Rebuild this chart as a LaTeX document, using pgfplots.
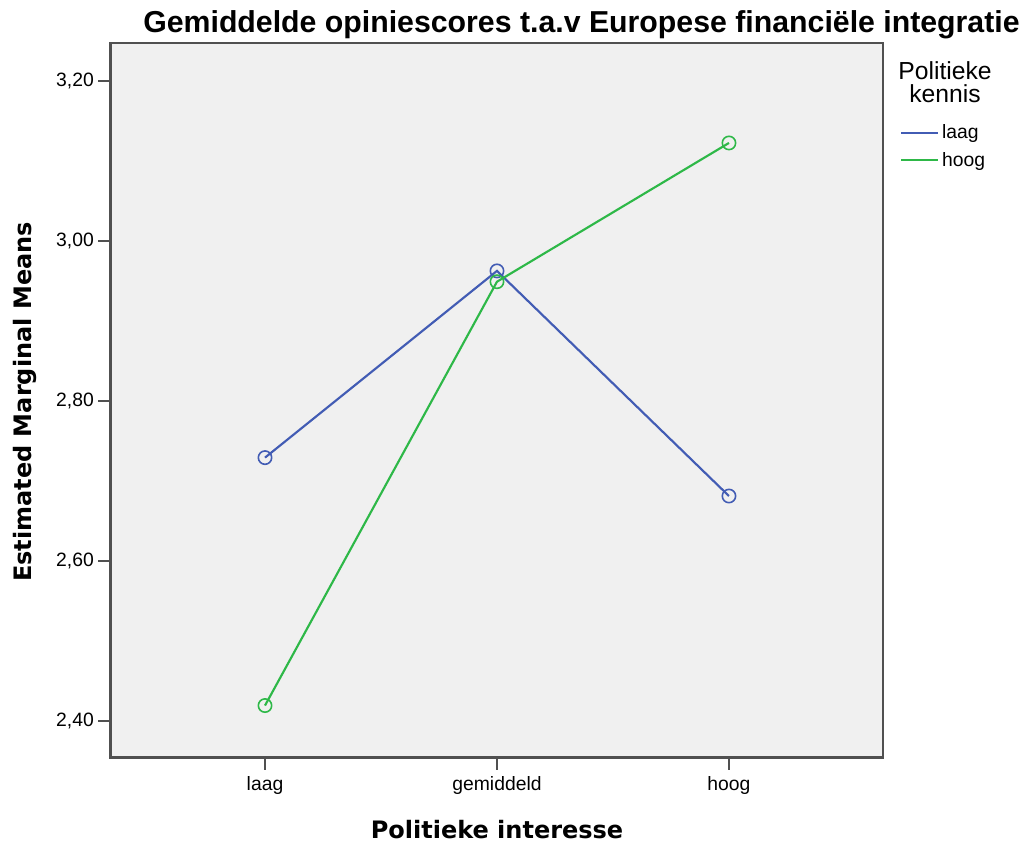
\documentclass[border=0pt]{standalone}
\usepackage{fontspec}
\setmainfont{Liberation Sans}
\newfontfamily\dejavu{DejaVu Sans}
\usepackage{pgfplots}
\pgfplotsset{compat=1.18}
\definecolor{spssblue}{RGB}{66,92,180}
\definecolor{spssgreen}{RGB}{46,184,72}
\definecolor{bgcol}{RGB}{240,240,240}
\definecolor{framecol}{RGB}{80,80,80}
\begin{document}
\begin{tikzpicture}[x=1pt,y=1pt]
\useasboundingbox (0,0) rectangle (770.25,633);
\begin{axis}[
  at={(82.875pt,64.875pt)}, anchor=south west,
  scale only axis, width=579.375pt, height=535.875pt,
  xmin=-0.666, xmax=2.664, ymin=2.354, ymax=3.2475,
  axis background/.style={fill=bgcol},
  axis line style={framecol, line width=1.6pt},
  xtick={0,1,2}, xticklabels={laag,gemiddeld,hoog},
  ytick={2.4,2.6,2.8,3.0,3.2},
  tick align=outside, major tick length=9pt,
  tick style={framecol, line width=1.6pt},
  xtick pos=bottom, ytick pos=left,
  tick label style={font=\fontsize{14.5}{17}\selectfont},
  y tick label style={/pgf/number format/.cd, fixed, fixed zerofill, precision=2, use comma, assume math mode=true},
  xticklabel style={yshift=-2pt},
  clip=false,
  legend style={draw=none, fill=none, at={(axis description cs:1.022,0.8894)}, anchor=north west,
    font=\fontsize{14.5}{17}\selectfont, inner sep=0pt, row sep=4.5pt,
    nodes={inner sep=2pt}},
  legend cell align=left,
  legend image code/.code={\draw[#1] (0pt,0pt) -- (27.75pt,0pt);},
]
\addplot[spssblue, line width=1.6pt, mark=o, mark size=5pt, mark options={solid, line width=1.2pt}]
  coordinates {(0,2.729) (1,2.9625) (2,2.681)};
\addlegendentry{laag}
\addplot[spssgreen, line width=1.6pt, mark=o, mark size=5pt, mark options={solid, line width=1.2pt}]
  coordinates {(0,2.419) (1,2.949) (2,3.1225)};
\addlegendentry{hoog}
\end{axis}
\node[anchor=base, font=\fontsize{22.7}{26}\selectfont\bfseries] at (436.1,608.25) {Gemiddelde opiniescores t.a.v Europese financiële integratie};
\node[anchor=base, font=\dejavu\bfseries\fontsize{18}{21}\selectfont] at (372.75,4.5) {Politieke interesse};
\node[rotate=90, font=\dejavu\bfseries\fontsize{18}{21}\selectfont] at (19,331.5) {Estimated Marginal Means};
\node[anchor=base, font=\fontsize{18.5}{21}\selectfont] at (708.75,573) {Politieke};
\node[anchor=base, font=\fontsize{18.5}{21}\selectfont] at (708.75,555.75) {kennis};
\end{tikzpicture}
\end{document}
